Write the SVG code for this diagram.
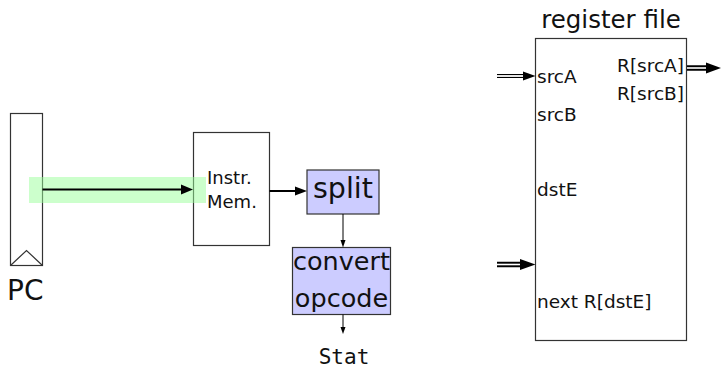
<svg xmlns="http://www.w3.org/2000/svg" width="723" height="368" viewBox="0 0 723 368">
  <style>
    .box { fill: #ffffff; stroke: #333333; stroke-width: 1.2; }
    .unit { fill: #ccccff; stroke: #333333; stroke-width: 1.2; }
    .lbl { font-family: "DejaVu Sans", sans-serif; fill: #111111; }
    .mono { font-family: "DejaVu Sans Mono", monospace; fill: #111111; }
    .wire { stroke: #000000; fill: none; }
    .head { fill: #000000; stroke: none; }
  </style>

  <!-- program counter register -->
  <g id="pc">
    <rect class="box" x="10.5" y="113.5" width="32" height="152"/>
    <polyline points="10.5,265.5 26.5,250.5 42.5,265.5" fill="none" stroke="#333333" stroke-width="1.2"/>
    <text class="lbl" x="7" y="300" font-size="28">PC</text>
  </g>

  <!-- instruction memory -->
  <g id="imem">
    <rect class="box" x="193.5" y="132.5" width="76" height="113"/>
    <text class="lbl" x="207" y="184" font-size="18">Instr.</text>
    <text class="lbl" x="207" y="208" font-size="18">Mem.</text>
  </g>

  <!-- fetch-path highlight -->
  <rect id="highlight" x="29" y="177" width="177" height="26" fill="#99ff99" fill-opacity="0.5"/>

  <!-- split unit -->
  <g id="split">
    <rect class="unit" x="307" y="170" width="72" height="44"/>
    <text class="lbl" x="343" y="198" font-size="28.5" text-anchor="middle">split</text>
  </g>

  <!-- convert opcode unit -->
  <g id="convert">
    <rect class="unit" x="292.5" y="247.5" width="98" height="67"/>
    <text class="lbl" x="341.5" y="269.5" font-size="25.5" text-anchor="middle">convert</text>
    <text class="lbl" x="341.5" y="306.5" font-size="25.5" text-anchor="middle">opcode</text>
  </g>

  <!-- status output label -->
  <g id="stat">
    <text class="mono" x="344" y="364" font-size="21" text-anchor="middle">Stat</text>
  </g>

  <!-- register file -->
  <g id="regfile">
    <text class="lbl" x="611" y="28" font-size="24.5" text-anchor="middle">register file</text>
    <rect class="box" x="535.5" y="38.5" width="151" height="302"/>
    <text class="lbl" x="537" y="83" font-size="18.5">srcA</text>
    <text class="lbl" x="537" y="121" font-size="18.5">srcB</text>
    <text class="lbl" x="537" y="196" font-size="18.5">dstE</text>
    <text class="lbl" x="537" y="308" font-size="18.5">next R[dstE]</text>
    <text class="lbl" x="684" y="72" font-size="18.5" text-anchor="end">R[srcA]</text>
    <text class="lbl" x="684" y="100" font-size="18.5" text-anchor="end">R[srcB]</text>
  </g>

  <!-- connectors -->
  <g id="connectors">
    <!-- PC to instruction memory -->
    <line class="wire" x1="42.5" y1="189.5" x2="183" y2="189.5" stroke-width="2"/>
    <polygon class="head" points="193,189.5 181,184.5 181,194.5"/>

    <!-- instruction memory to split -->
    <line class="wire" x1="269.5" y1="191" x2="297" y2="191" stroke-width="2"/>
    <polygon class="head" points="307,191 295,186.5 295,195.5"/>

    <!-- split to convert opcode -->
    <line class="wire" x1="343" y1="214" x2="343" y2="241" stroke-width="1"/>
    <polygon class="head" points="343,247.5 340.5,240 345.5,240"/>

    <!-- convert opcode to Stat -->
    <line class="wire" x1="343" y1="314.5" x2="343" y2="328" stroke-width="1"/>
    <polygon class="head" points="343,334 340.5,327 345.5,327"/>

    <!-- bus into srcA -->
    <line class="wire" x1="497" y1="76" x2="526" y2="76" stroke-width="4"/>
    <line x1="496" y1="76" x2="527" y2="76" stroke="#ffffff" stroke-width="1.8"/>
    <polygon class="head" points="535.5,76 523,71.5 523,80.5"/>

    <!-- bus out of R[srcA] -->
    <line class="wire" x1="687" y1="68" x2="708" y2="68" stroke-width="5.5"/>
    <line x1="687" y1="68" x2="709" y2="68" stroke="#ffffff" stroke-width="1.6"/>
    <polygon class="head" points="721,68 706,62.5 706,73.5"/>

    <!-- bus into next R[dstE] -->
    <line class="wire" x1="497" y1="264.5" x2="522" y2="264.5" stroke-width="5.5"/>
    <line x1="496" y1="264.5" x2="523" y2="264.5" stroke="#ffffff" stroke-width="1.6"/>
    <polygon class="head" points="535.5,264.5 520,259 520,270"/>
  </g>
</svg>
